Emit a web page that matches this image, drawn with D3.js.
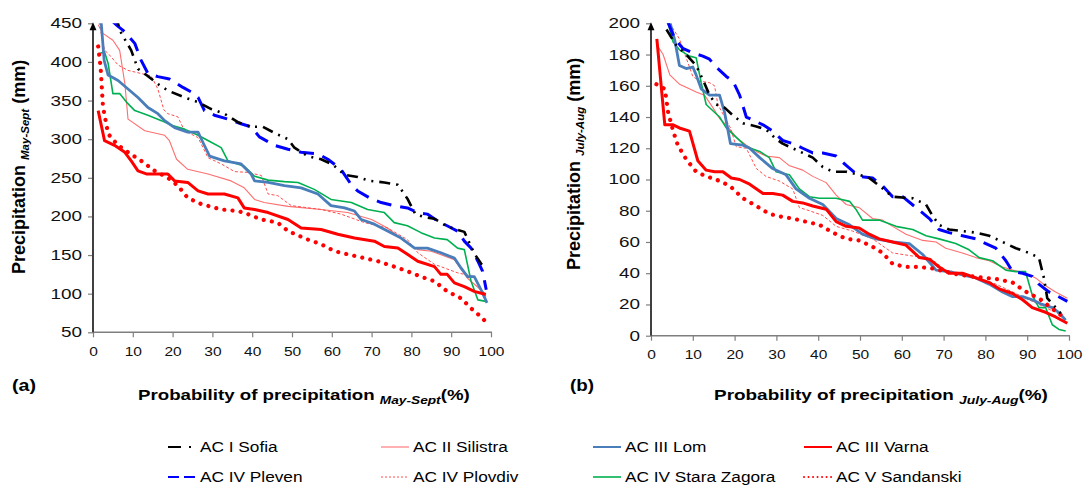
<!DOCTYPE html>
<html><head><meta charset="utf-8">
<script src="https://cdn.jsdelivr.net/npm/d3@7/dist/d3.min.js"></script>
<style>
body{margin:0;background:#fff;}
svg{font-family:Arial,"Liberation Sans",sans-serif;}
.yax text{transform-box:fill-box;transform-origin:right center;transform:scaleX(1.35);}
.xax text{transform-box:fill-box;transform-origin:center;transform:scaleX(1.15);}
.leg text{transform-box:fill-box;transform-origin:left center;transform:scaleX(1.15);}
</style></head><body>
<svg id="c" width="1083" height="485"></svg>
<script>
// ---------- data ----------
const probTicks = [0,10,20,30,40,50,60,70,80,90,100];
const ticksMaySept = [50,100,150,200,250,300,350,400,450];
const ticksJulyAug = [0,20,40,60,80,100,120,140,160,180,200];
const seriesNames = ["AC I Sofia","AC II Silistra","AC III Lom","AC III Varna",
                     "AC IV Pleven","AC IV Plovdiv","AC IV Stara Zagora","AC V Sandanski"];

// panel (a) May-Sept: [probability %, precipitation mm]
const sofiaA = [[5.8,460],[6.7,441],[9.6,415],[11.3,391],[13.4,383],[16.7,370],[18.8,363],[23,354],[26.4,348],[29.7,339],[33,333],[36.4,322],[39.7,316],[42.7,316],[46,307],[49,300],[50.6,289],[54,278],[57.3,274],[60.3,267],[63.2,254],[66.5,251],[69.5,246],[73.2,244],[76.6,241],[79,223],[81,203],[83.3,199],[85.8,197],[89,187],[90.8,184],[93.3,180],[95.8,152],[97.5,139],[98.7,132]];
const silistraA = [[1.3,448],[2.5,437],[5,428],[6.7,415],[8,372],[8.8,326],[13,311],[18,305],[19.2,298],[21,274],[23.8,261],[28.9,255],[34.7,246],[38,237],[40.6,222],[43,218],[49,213],[57.3,209],[64,205],[70,196],[74,185],[78.2,168],[81.6,157],[85,155],[90.8,144],[94.1,120],[97,107],[98.7,99]];
const lomA = [[2,455],[2.8,402],[3.8,383],[6.3,376],[8.8,365],[11.3,354],[13.8,341],[16.3,333],[18,324],[20.5,315],[23.8,309],[26.4,309],[27.6,296],[29.3,278],[33,272],[37.2,268],[39.7,255],[40.6,246],[44,244],[48.1,240],[52.3,237],[56.5,229],[59.8,214],[63.2,211],[65.7,207],[67.4,196],[70.7,190],[74,181],[77.4,172],[80.8,159],[84,159],[87.4,153],[90.8,146],[92.5,133],[94.1,122],[95.8,122],[97.5,105],[99,88]];
const varnaA = [[1.3,337],[2.9,298],[5.4,292],[8,283],[9.6,272],[11.3,259],[13.4,255],[18.8,255],[20.5,246],[23.8,244],[26.4,233],[28.9,229],[33,229],[36.4,224],[38,211],[40.6,209],[44,205],[49,196],[52.3,185],[57.3,183],[61.5,177],[65.7,172],[70.7,168],[73.2,161],[76.6,159],[79,151],[81.6,142],[85.8,135],[87.4,125],[89,125],[90.8,114],[93.3,109],[95.8,103],[98.7,99]];
const plevenA = [[5,452],[6.3,446],[8,439],[10.5,424],[12.1,402],[13.8,385],[16.3,381],[19.2,378],[22.6,367],[24.7,361],[26.4,354],[28,337],[30.5,331],[33.9,326],[37.2,320],[39.7,316],[41.8,303],[45.6,292],[49,287],[52.3,283],[56.5,281],[59,274],[62.3,261],[64.9,241],[66.5,233],[69.5,224],[72.4,218],[75.7,214],[79,211],[81.6,205],[84,203],[86.6,194],[89.7,186],[91.6,181],[93.3,168],[95,159],[96.7,142],[97.9,129],[98.8,105]];
const plovdivA = [[1.5,452],[2.9,415],[3.8,411],[6.3,396],[8.8,389],[12.1,385],[14.6,382],[16.3,365],[17.8,338],[18.8,333],[21.3,329],[23,311],[26.4,302],[28.9,276],[32.2,268],[35.6,258],[38.9,257],[42.3,253],[44,229],[46.4,227],[49.8,214],[57.3,209],[62.3,203],[68.2,192],[74,185],[79,170],[81.6,153],[85.8,138],[91.6,127],[95.8,122],[98.7,96]];
const staraA = [[1.7,411],[2.9,413],[3.8,398],[5,359],[6.7,359],[8.4,348],[10.5,337],[13.8,331],[17.2,324],[19.7,318],[23,313],[26.4,305],[29.7,296],[32.2,289],[33.9,272],[38,265],[40.6,252],[44,247],[48.1,245],[51.5,244],[55.6,235],[59.8,222],[64.9,218],[69,209],[73.2,205],[75.7,192],[79,188],[82.4,179],[85.8,172],[89,170],[91.6,159],[93.3,157],[95,116],[96.7,92],[98.7,90]];
const sandanskiA = [[1.3,420],[1.9,394],[2.5,342],[3.8,307],[6.3,292],[8.8,283],[12.1,272],[15.5,259],[18.8,250],[21.3,240],[23.8,224],[27.2,216],[32.2,209],[36.4,207],[38.9,203],[42.3,196],[46.4,192],[49,181],[54,170],[57.3,164],[60.7,155],[64,151],[68.2,146],[71.6,142],[75.7,135],[79,129],[82.4,122],[85.8,116],[89,103],[92.5,94],[95,81],[97.5,70],[98.6,64]];

// panel (b) July-Aug: [probability %, precipitation mm]
const sofiaB = [[3.7,196],[6,186],[8.4,180],[10.8,173],[12.4,164],[14,154],[15.6,148],[17.6,146],[19.6,141],[22,136],[25.2,134],[27.5,132],[29.9,126],[31.5,123],[33.9,120],[36.3,117],[38.7,114],[41.1,108],[43.5,105],[46.7,105],[49.8,103],[52.2,101],[54.6,96],[57.8,89],[62.6,88],[65.8,84],[67.3,77],[68.9,71],[71.3,68],[74.5,67],[77.7,66],[80.9,64],[84.1,60],[87.3,56],[90.4,53],[92.8,50],[94,37],[94.8,24],[96.8,18],[98.8,12]];
const silistraB = [[1.7,185],[2.9,180],[4.5,167],[6.8,161],[8.4,159],[10.8,156],[12.8,154],[14.8,146],[16.4,139],[18,135],[20.4,127],[22.8,122],[25.2,118],[27.5,115],[30.7,114],[33,109],[36.3,106],[38.7,102],[41.9,98],[44.3,90],[46.7,84],[49.8,82],[53,75],[55.4,74],[57.8,70],[61,65],[65,61],[68.2,60],[70.5,56],[74.5,53],[77.7,50],[80.9,48],[84.1,44],[86.5,42],[89.6,40],[92,37],[94.4,32],[96.8,28],[99.6,24]];
const lomB = [[4.5,201],[5.7,189],[6.8,173],[8.4,171],[10,172],[10.8,167],[12,158],[14,154],[16.4,154],[17.6,143],[19,123],[22,122],[23.6,120],[26,114],[29.1,107],[32.3,103],[34.7,94],[37.9,88],[41.1,84],[44.3,75],[47.5,71],[50.6,65],[53.8,62],[57.8,60],[61.8,59],[65,52],[68.2,42],[71.3,41],[74.5,39],[77.7,37],[80.9,33],[84.1,28],[86.5,25],[88.9,25],[91.2,23],[93.6,20],[96,18],[97.5,15],[99.2,10]];
const varnaB = [[1.4,190],[3.3,135],[5.3,135],[6.8,133],[9.2,131],[11.2,112],[13.2,106],[15.2,105],[17.2,105],[19.2,101],[21.2,100],[23.6,97],[26.8,91],[29.1,91],[31.5,90],[33.9,86],[36.3,85],[38.7,83],[41.9,81],[44.3,73],[46.7,70],[49.8,69],[52.2,65],[54.6,62],[57.8,60],[61,58],[64.2,50],[66.6,49],[68.9,44],[71.3,40],[74.5,40],[77.7,37],[80.9,34],[83.3,30],[86.5,27],[88.9,23],[91.2,18],[94.4,15],[96.8,12],[99.6,8]];
const plevenB = [[4,201],[5.7,190],[7.6,184],[10,181],[12.4,179],[14,177],[15.6,172],[18,166],[19.6,163],[21.2,154],[22.8,140],[24.4,138],[26.8,135],[29.1,131],[31.5,125],[33.9,123],[36.3,120],[38.7,117],[41.1,117],[44.3,115],[46.7,109],[49.8,102],[53,101],[55.4,96],[57.8,89],[60.2,89],[63.4,82],[66.6,75],[68.9,68],[71.3,66],[74.5,64],[77.7,62],[80.1,59],[82.5,56],[84.9,48],[86.5,41],[88.9,40],[91.2,38],[92.8,33],[95.2,28],[96.8,26],[99.6,22]];
const plovdivB = [[4.5,200],[6.8,190],[8.4,178],[10,166],[11.6,163],[14,162],[15.2,160],[16,148],[17.2,142],[19,133],[20.4,121],[22.8,120],[25.2,107],[27.5,102],[30.7,99],[33.9,94],[35.5,82],[37.9,80],[41.1,77],[44.3,70],[48.2,67],[53,62],[57.8,53],[62.6,51],[66.6,50],[70.5,42],[74.5,40],[78.5,37],[82.5,33],[86.5,28],[90.4,23],[94.4,18],[96.8,15],[99.2,11]];
const staraB = [[4,201],[5.3,188],[6.8,183],[9.2,179],[10.8,178],[12,162],[13.2,148],[14.8,144],[16.4,140],[18,133],[20.4,127],[22.8,121],[26,118],[28.3,114],[29.9,105],[33.1,103],[35.5,94],[37.9,89],[40.3,88],[44.3,88],[47.5,86],[49,81],[50.6,74],[54.6,74],[58.6,70],[62.6,68],[65.8,64],[68.9,62],[72.9,59],[76.1,55],[78.5,50],[81.7,48],[84.9,42],[87.3,41],[89.6,41],[91.2,26],[92.8,18],[94.4,18],[96,7],[97.6,4],[99.2,3]];
const sandanskiB = [[1.3,161],[3.3,158],[4.1,143],[5.3,131],[6.4,122],[8.4,113],[10.8,105],[13.2,102],[15.6,100],[18.8,96],[22,88],[25.2,83],[28.3,78],[31.5,76],[33.9,75],[37.1,73],[40.3,71],[43.5,66],[46.7,62],[49.8,61],[53,57],[55.4,53],[57.8,46],[61,44],[64.2,44],[67.4,43],[70.5,41],[73.7,39],[76.9,38],[80.1,37],[83.3,36],[86.5,34],[88.1,31],[90.4,27],[92.8,24],[95.2,19],[97.6,14],[98.8,12]];

// ---------- styles ----------
const styles = {
  "AC I Sofia":        {color:"#000000", width:2.6, dash:"11,6,2,6,2,6", cap:"butt"},
  "AC II Silistra":    {color:"#ff6f6f", width:1.1, dash:null, cap:"butt"},
  "AC III Lom":        {color:"#4a7ebb", width:2.8, dash:null, cap:"butt"},
  "AC III Varna":      {color:"#ff0000", width:3, dash:null, cap:"butt"},
  "AC IV Pleven":      {color:"#0000ff", width:3, dash:"15,9", cap:"butt"},
  "AC IV Plovdiv":     {color:"#ff4d4d", width:1, dash:"3,2", cap:"butt"},
  "AC IV Stara Zagora":{color:"#00b050", width:1.6, dash:null, cap:"butt"},
  "AC V Sandanski":    {color:"#ff0000", width:4.2, dash:"0.01,8.2", cap:"round"}
};
const drawOrder = ["AC II Silistra","AC IV Plovdiv","AC IV Stara Zagora","AC III Lom","AC V Sandanski","AC III Varna","AC IV Pleven","AC I Sofia"];

const panels = [
  {id:"a", label:"(a)", sub:"May-Sept", x0:93, x1:491, yT:23.3, yB:332.3, dom:[50,450], ticks:ticksMaySept,
   data:{"AC I Sofia":sofiaA,"AC II Silistra":silistraA,"AC III Lom":lomA,"AC III Varna":varnaA,
         "AC IV Pleven":plevenA,"AC IV Plovdiv":plovdivA,"AC IV Stara Zagora":staraA,"AC V Sandanski":sandanskiA},
   ytx:25, yty:274, xtx:138, xtw:332, lx:12},
  {id:"b", label:"(b)", sub:"July-Aug", x0:651, x1:1069, yT:23.3, yB:335.7, dom:[0,200], ticks:ticksJulyAug,
   data:{"AC I Sofia":sofiaB,"AC II Silistra":silistraB,"AC III Lom":lomB,"AC III Varna":varnaB,
         "AC IV Pleven":plevenB,"AC IV Plovdiv":plovdivB,"AC IV Stara Zagora":staraB,"AC V Sandanski":sandanskiB},
   ytx:580, yty:270, xtx:714, xtw:334, lx:570}
];

const svg = d3.select("#c");

function fitWidth(g, w){
  const bb = g.node().getBBox();
  return w / bb.width;
}

panels.forEach(P => {
  const x = d3.scaleLinear().domain([0,100]).range([P.x0, P.x1]);
  const y = d3.scaleLinear().domain(P.dom).range([P.yB, P.yT]);
  const g = svg.append("g");

  g.append("clipPath").attr("id","clip"+P.id).append("rect")
    .attr("x", P.x0).attr("y", P.yT).attr("width", P.x1 - P.x0 + 6).attr("height", P.yB - P.yT);

  // axes
  const ya = g.append("g").attr("class","yax").attr("transform",`translate(${P.x0},0)`)
    .call(d3.axisLeft(y).tickValues(P.ticks).tickSize(5).tickPadding(6).tickFormat(d3.format("d")));
  const xa = g.append("g").attr("class","xax").attr("transform",`translate(0,${P.yB})`)
    .call(d3.axisBottom(x).tickValues(probTicks).tickSize(5).tickPadding(9).tickFormat(d3.format("d")));
  [ya, xa].forEach(a => {
    a.select(".domain").remove();
    a.selectAll("line").attr("stroke","#7f7f7f").attr("stroke-width",1.2);
    a.selectAll("text").attr("font-size",14).attr("fill","#111");
  });
  xa.selectAll("text").attr("font-size",13.5);
  g.append("line").attr("x1",P.x0).attr("x2",P.x1+1).attr("y1",P.yB).attr("y2",P.yB)
    .attr("stroke","#7f7f7f").attr("stroke-width",1.5);
  g.append("line").attr("x1",P.x0).attr("x2",P.x0).attr("y1",P.yB).attr("y2",P.yT+5)
    .attr("stroke","#404040").attr("stroke-width",2);
  g.append("path").attr("d",`M${P.x0-3.5},${P.yT+7}L${P.x0},${P.yT-1}L${P.x0+3.5},${P.yT+7}Z`).attr("fill","#000");

  // series
  const line = d3.line().x(d => x(d[0])).y(d => y(d[1]));
  const lg = g.append("g").attr("clip-path",`url(#clip${P.id})`);
  drawOrder.forEach(name => {
    const s = styles[name];
    lg.append("path").datum(P.data[name]).attr("d", line)
      .attr("fill","none").attr("stroke", s.color).attr("stroke-width", s.width)
      .attr("stroke-dasharray", s.dash).attr("stroke-linecap", s.cap).attr("stroke-linejoin","round");
  });

  // y title
  const yt = g.append("text").attr("font-weight","bold").attr("font-size",18).attr("fill","#000");
  yt.append("tspan").text("Precipitation ");
  yt.append("tspan").attr("font-size",11.5).attr("font-style","italic").attr("dy",4).text(P.sub);
  yt.append("tspan").attr("dy",-4).text(" (mm)");
  yt.attr("transform",`translate(${P.ytx},${P.yty}) rotate(-90)`);

  // x title
  const xt = g.append("text").attr("font-weight","bold").attr("font-size",15).attr("fill","#000");
  xt.append("tspan").text("Probability  of  precipitation ");
  xt.append("tspan").attr("font-size",11).attr("font-style","italic").attr("dy",4).text(P.sub);
  xt.append("tspan").attr("dy",-4).text("(%)");
  const sx = fitWidth(xt, P.xtw);
  xt.attr("transform",`translate(${P.xtx},400) scale(${sx},1)`);

  // panel label
  const pl = g.append("text").attr("font-weight","bold").attr("font-size",16).text(P.label);
  const sl = fitWidth(pl, 24);
  pl.attr("transform",`translate(${P.lx},391) scale(${sl},1)`);
});

// legend
const legCols = [168, 381, 593, 804];
const legRows = [447, 477];
const leg = svg.append("g").attr("class","leg");
seriesNames.forEach((name,i) => {
  const cx = legCols[i % 4], cy = legRows[Math.floor(i / 4)];
  const s = styles[name];
  leg.append("line").attr("x1",cx).attr("x2",cx+28).attr("y1",cy).attr("y2",cy)
    .attr("stroke",s.color).attr("stroke-width",Math.min(s.width,2))
    .attr("stroke-dasharray", name==="AC I Sofia" ? "13,8,2,8" : name==="AC IV Pleven" ? "11,5" : name==="AC V Sandanski" ? "0.01,4.5" : name==="AC IV Plovdiv" ? "2,2" : null)
    .attr("stroke-linecap", s.cap);
  leg.append("text").attr("x",cx+32).attr("y",cy+5).attr("font-size",15).attr("fill","#000").text(name);
});
</script></body></html>
